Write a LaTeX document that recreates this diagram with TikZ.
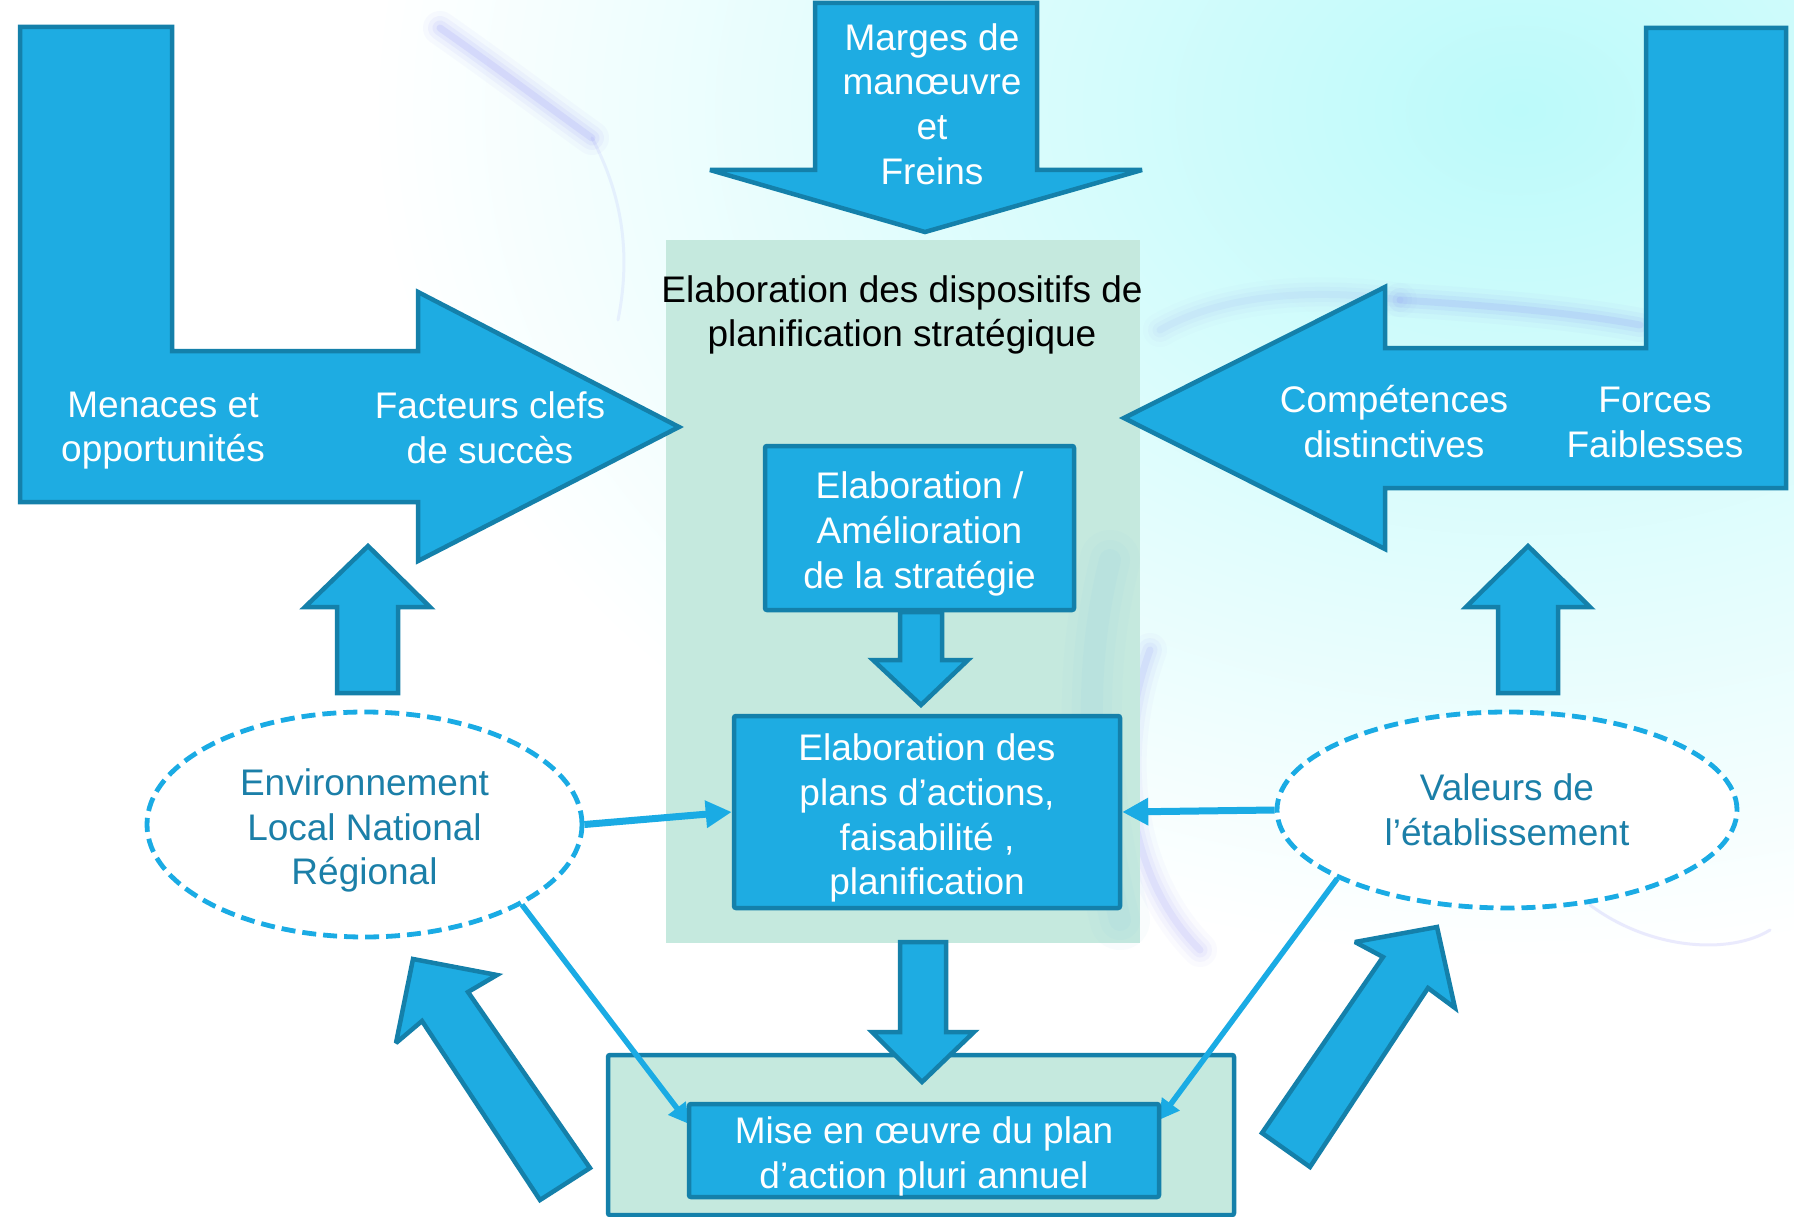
\documentclass[tikz,border=0pt]{standalone}
\usepackage{fontspec}
\setmainfont{Liberation Sans}
\usetikzlibrary{arrows.meta,shapes.geometric}
\definecolor{arrfill}{RGB}{30,172,226}
\definecolor{arrline}{RGB}{20,128,170}
\definecolor{linkblue}{RGB}{26,171,228}
\definecolor{ovaltext}{RGB}{27,127,168}
\definecolor{panelgreen}{RGB}{197,233,222}
\definecolor{wash}{RGB}{188,250,250}
\definecolor{swirl}{RGB}{120,120,245}
\definecolor{tealtint}{RGB}{140,205,225}
\newcommand{\topstrut}{\rule{0pt}{39pt}}
\begin{document}
\begin{tikzpicture}[x=1pt,y=-1pt,
  blockarrow/.style={fill=arrfill,draw=arrline,line width=4.5pt,line join=miter,miter limit=3},
  txt/.style={font=\fontsize{37}{44.7}\selectfont,align=center,inner sep=0pt},
  whitetxt/.style={txt,text=white},
  bluebox/.style={rectangle,fill=arrfill,draw=arrline,line width=4.5pt,rounded corners=2pt,whitetxt},
  oval/.style={ellipse,draw=linkblue,fill=white,line width=4.8pt,dash pattern=on 14pt off 7pt,txt,text=ovaltext},
  linkarrow/.style={draw=linkblue,line width=7pt,-{Triangle[length=26pt,width=26pt]}},
  linkthin/.style={draw=linkblue,line width=5.5pt,-{Triangle[length=20pt,width=21pt]}},
  smoke/.style={draw=swirl,line cap=round}
]
\useasboundingbox (0,0) rectangle (1794,1217);
\fill[white] (0,0) rectangle (1794,1217);
% background wash and soft smoke
\shade[inner color=wash,outer color=white] (1520,110) ellipse (1150 and 850);
\foreach \w/\o in {34/0.04,24/0.06,15/0.08,7/0.12}{
  \draw[smoke,line width=\w pt,opacity=\o] (440,28) .. controls (500,70) and (550,108) .. (592,138);
  \draw[smoke,line width=\w pt,opacity=\o*0.9] (1400,300) .. controls (1480,305) and (1570,312) .. (1640,325);
  \draw[smoke,line width=\w pt,opacity=\o*0.5] (1160,330) .. controls (1230,290) and (1330,290) .. (1400,300);
  \draw[smoke,line width=\w pt,opacity=\o*0.8] (1150,650) .. controls (1110,760) and (1130,880) .. (1200,950);
}
\draw[smoke,line width=3pt,opacity=0.10] (592,138) .. controls (625,200) and (630,260) .. (618,320);
\draw[smoke,line width=3pt,opacity=0.15] (1590,905) .. controls (1650,950) and (1730,955) .. (1770,930);
% central panel
\fill[panelgreen] (666,240) rectangle (1140,943);
\foreach \w/\o in {60/0.05,40/0.07,22/0.09}{
  \draw[draw=tealtint,line width=\w pt,opacity=\o,line cap=round] (1110,560) .. controls (1080,680) and (1090,800) .. (1120,920);
}
% big block arrows
\draw[blockarrow] (20,27) -- (172,27) -- (172,351) -- (418,351) -- (418,292) -- (679,427)
  -- (418,561) -- (418,502) -- (20,502) -- cycle;
\draw[blockarrow] (1786,28) -- (1786,488) -- (1385,488) -- (1385,549) -- (1124,418)
  -- (1385,287) -- (1385,348) -- (1646,348) -- (1646,28) -- cycle;
\draw[blockarrow] (815,3) -- (1037,3) -- (1037,170) -- (1142,170) -- (925,232)
  -- (710,170) -- (815,170) -- cycle;
% up arrows
\draw[blockarrow] (368,546) -- (430,607) -- (398,607) -- (398,693) -- (337,693) -- (337,607) -- (305,607) -- cycle;
\draw[blockarrow] (1528,546) -- (1590,607) -- (1558,607) -- (1558,693) -- (1498,693) -- (1498,607) -- (1466,607) -- cycle;
% diagonal arrows
\draw[blockarrow] (590,1168) -- (540,1200) -- (422,1021) -- (396,1043) -- (413,959) -- (497,975) -- (468,992) -- cycle;
\draw[blockarrow] (1262,1133) -- (1310,1167) -- (1428,988) -- (1455,1008) -- (1437,927) -- (1355,942) -- (1383,957) -- cycle;
% labels in the big arrows
\node[whitetxt] (menaces) at (163,430.5) {Menaces et\\opportunités};
\node[whitetxt] (facteurs) at (490,428) {Facteurs clefs\\de succès};
\node[whitetxt] (competences) at (1394,421.5) {Compétences\\distinctives};
\node[whitetxt] (forces) at (1655,422.5) {Forces\\Faiblesses};
\node[whitetxt] (marges) at (932,104) {Marges de\\manœuvre\\et\\Freins};
% panel title
\node[txt,text=black] (title) at (902,315) {Elaboration des dispositifs de\\planification stratégique};
% small down arrow
\draw[blockarrow] (900,612) -- (942,612) -- (942,660) -- (968,660) -- (921,705) -- (873,660) -- (900,660) -- cycle;
% boxes
\node[bluebox,minimum width=309pt,minimum height=164pt] (strat) at (919.5,528) {\topstrut Elaboration /\\Amélioration\\de la stratégie};
\node[bluebox,minimum width=386pt,minimum height=192pt] (plans) at (927,812) {\topstrut Elaboration des\\plans d’actions,\\faisabilité ,\\planification};
% bottom box
\node[rectangle,draw=arrline,fill=panelgreen,line width=4.5pt,rounded corners=2pt,minimum width=626pt,minimum height=160pt,inner sep=0pt] (outer) at (921,1135) {};
\draw[blockarrow] (900,942) -- (946,942) -- (946,1032) -- (974,1032) -- (922,1082) -- (872,1032) -- (900,1032) -- cycle;
% ovals
\node[oval,minimum width=435pt,minimum height=225pt] (env) at (364.5,824.5) {\topstrut Environnement\\Local National\\Régional};
\node[oval,minimum width=460pt,minimum height=196pt] (val) at (1507,810) {Valeurs de\\l’établissement};
% connectors
\draw[linkthin] (env.-27) -- ([yshift=11pt]outer.center -| 689,0);
\draw[linkthin] (val.202) -- ([yshift=15pt]outer.center -| 1159,0);
\node[bluebox,minimum width=470pt,minimum height=93pt] (impl) at (924,1150.5) {\topstrut Mise en œuvre du plan\\d’action pluri annuel};
\draw[linkarrow] (env.east) -- (plans.west);
\draw[linkarrow] (val.west) -- (plans.east);
\end{tikzpicture}
\end{document}
